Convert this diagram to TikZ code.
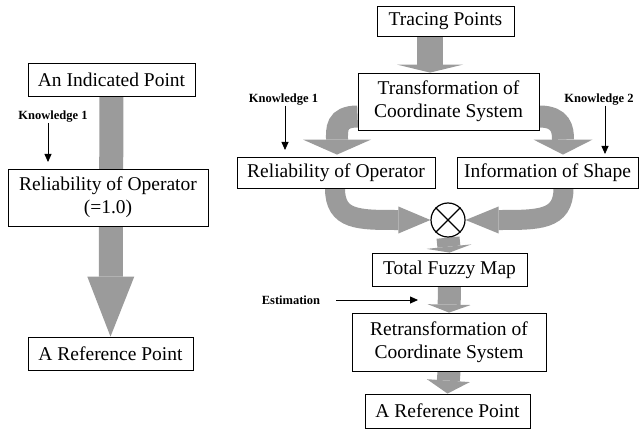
\documentclass[tikz,border=0pt]{standalone}
\usepackage{fontspec}
\setmainfont{Liberation Serif}
\usepackage{tikz}
\usetikzlibrary{arrows.meta}
\usetikzlibrary{backgrounds}
\tikzstyle{block} = [draw, fill=white, line width=0.8pt, align=center, inner sep=0pt, font=\fontsize{19.5}{23}\selectfont]
\tikzstyle{note} = [inner sep=0pt, font=\bfseries\fontsize{12.5}{14}\selectfont]
\tikzstyle{hint} = [line width=0.8pt, -{Triangle[length=8pt,width=7pt]}]
\tikzstyle{flow} = [draw=flowgray, line width=24pt]
\definecolor{flowgray}{HTML}{9B9B9B}

\begin{document}
\begin{tikzpicture}[x=1pt,y=-1pt]
			\useasboundingbox (0,0) rectangle (644,430);
			% single operator
			\node[block, minimum width=167pt, minimum height=33pt] (indicated) at (111.5,79.5) {An Indicated Point};
			\node[block, minimum width=200pt, minimum height=57pt] (reliab) at (108,197.5) {Reliability of Operator\\(=1.0)};
			\node[block, minimum width=165pt, minimum height=33pt] (refleft) at (110.5,353.5) {A Reference Point};
			\node[note] (knowleft) at (53,117) {Knowledge 1};
			\coordinate (kltip) at (48,162);
			\draw[hint] (knowleft.south -| kltip) -- (kltip);
			% tracing with shape information
			\node[block, minimum width=137pt, minimum height=30pt] (tracing) at (445.5,21) {Tracing Points};
			\node[block, minimum width=181pt, minimum height=57pt] (transf) at (448.5,101.5) {Transformation of\\Coordinate System};
			\node[block, minimum width=198pt, minimum height=31pt] (reliabR) at (336,172.5) {Reliability of Operator};
			\node[block, minimum width=181pt, minimum height=31pt] (shape) at (547.5,172.5) {Information of Shape};
			\node[draw, circle, minimum size=34pt, line width=1.2pt, inner sep=0pt, fill=white] (mult) at (448,220) {};
			\draw[line width=1.2pt] (mult.north west) -- (mult.south east) (mult.north east) -- (mult.south west);
			\node[block, minimum width=155pt, minimum height=33pt] (fuzzy) at (449.5,269.5) {Total Fuzzy Map};
			\node[block, minimum width=194pt, minimum height=58pt] (retransf) at (449,342) {Retransformation of\\Coordinate System};
			\node[block, minimum width=165pt, minimum height=34pt] (refright) at (447.5,411) {A Reference Point};
			\node[note] (knowone) at (283.5,100) {Knowledge 1};
			\node[note] (knowtwo) at (599,100) {Knowledge 2};
			\node[note] (estim) at (291,300) {Estimation};
			\coordinate (k1tip) at (285,150);
			\coordinate (k2tip) at (605,154);
			\coordinate (esttip) at (418,300);
			\draw[hint] (knowone.south -| k1tip) -- (k1tip);
			\draw[hint] (knowtwo.south -| k2tip) -- (k2tip);
			\draw[hint] ([xshift=16pt]estim.east) -- (esttip);
			\begin{scope}[on background layer]
				\draw[flow, -{Triangle[width=47pt,length=60pt,line width=0pt]}] (indicated.south) -- (refleft.north);
				\draw[flow, line width=26pt, -{Triangle[width=66pt,length=8pt,line width=0pt]}] ([xshift=-15.5pt]tracing.south) -- ([xshift=-18.5pt]transf.north);
				\draw[flow, line width=22pt, -{Triangle[width=68pt,length=15pt,line width=0pt]}] ([yshift=-15pt]transf.west) .. controls +(-22,0) and +(0,-25) .. ([xshift=1pt,yshift=2pt]reliabR.north);
				\draw[flow, line width=22pt, -{Triangle[width=59pt,length=15pt,line width=0pt]}] ([yshift=-15pt]transf.east) .. controls +(22,0) and +(0,-25) .. ([xshift=15.5pt,yshift=2pt]shape.north);
				\draw[flow, line width=20pt, -{Triangle[width=27pt,length=32pt,line width=0pt]}] ([xshift=-1pt]reliabR.south) .. controls +(0,32) and +(-40,0) .. ([xshift=-32pt]mult.west) -- (mult.west);
				\draw[flow, line width=20pt, -{Triangle[width=27pt,length=33pt,line width=0pt]}] ([xshift=16pt]shape.south) .. controls +(0,32) and +(40,0) .. ([xshift=33pt]mult.east) -- (mult.east);
				\draw[flow, line width=23pt, -{Triangle[width=45pt,length=6pt,line width=0pt]}] (mult.south) -- (fuzzy.north);
				\draw[flow, line width=23pt, -{Triangle[width=43pt,length=8pt,line width=0pt]}] (fuzzy.south) -- (retransf.north);
				\draw[flow, line width=23pt, -{Triangle[width=43pt,length=13pt,line width=0pt]}] (retransf.south) -- (refright.north);
			\end{scope}
		\end{tikzpicture}
\end{document}
